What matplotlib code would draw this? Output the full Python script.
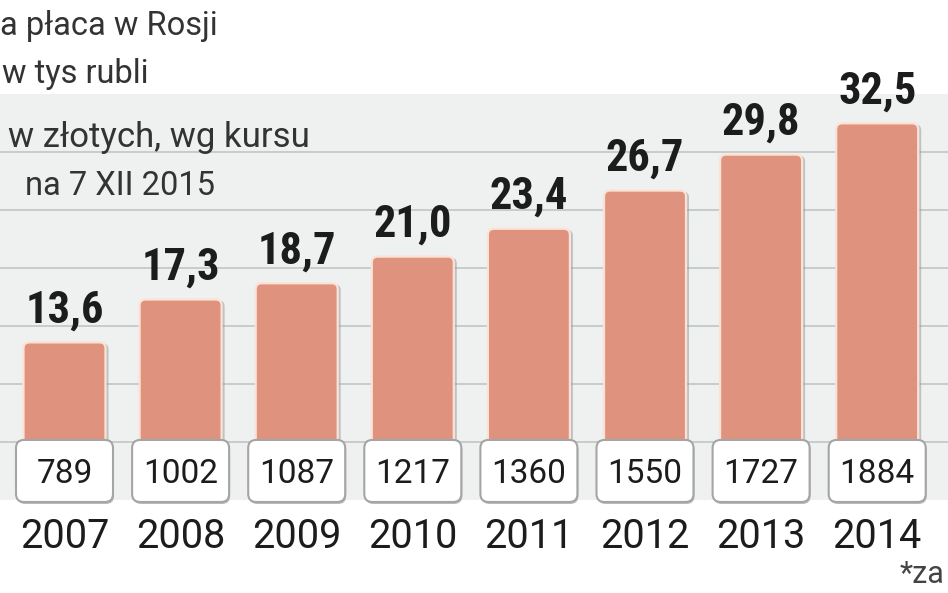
import matplotlib
matplotlib.use("Agg")
import matplotlib.pyplot as plt
from matplotlib import font_manager
from matplotlib.patches import FancyBboxPatch

# dane
years = [2007, 2008, 2009, 2010, 2011, 2012, 2013, 2014]
rub_thousands = [13.6, 17.3, 18.7, 21.0, 23.4, 26.7, 29.8, 32.5]
pln = [789, 1002, 1087, 1217, 1360, 1550, 1727, 1884]
grid_vals = [5, 10, 15, 20, 25, 30]


def pick_bold_narrow():
    # szukamy waskiego, grubego kroju; jak nie ma, Roboto
    names = sorted({f.name for f in font_manager.fontManager.ttflist})
    for want in ["Liberation Sans Narrow", "DejaVu Sans Condensed", "Roboto Condensed",
                 "Open Sans Condensed"]:
        if want in names:
            return want, "normal"
    for f in font_manager.fontManager.ttflist:
        if ("Narrow" in f.fname or "Condensed" in f.fname) and "Bold" in f.fname:
            return f.name, f.stretch
    return "Roboto", "normal"


bold_family, bold_stretch = pick_bold_narrow()

fig = plt.figure(figsize=(9.48, 5.93), dpi=100)
ax = fig.add_axes([0, 0, 1, 1])
ax.axis("off")

# skala: 1 rok = 116.1 px, 1 tys = 11.59 px, zero na y=500 px
px_x = 116.1
px_y = 11.59
x0 = 2007 - 64.5 / px_x
ax.set_xlim(x0, x0 + 948 / px_x)
ax.set_ylim((500 - 593) / px_y, 500 / px_y)
aspect = px_x / px_y

# tlo panelu i siatka
ax.axhspan(0, 35, color="#eff0f0", zorder=0, lw=0)
for g in grid_vals:
    ax.axhline(g, color="#c6cbcb", lw=1.4, zorder=1)

bar_w = 82 / px_x
box_w = 97 / px_x
box_lo, box_hi = -0.17, 5.18

for yr, v, p in zip(years, rub_thousands, pln):
    # cien slupka (po prawej)
    sh = FancyBboxPatch((yr - bar_w / 2 + 3 / px_x, 1), bar_w, v - 1 - 1 / px_y,
                        boxstyle="round,pad=0,rounding_size=%f" % (6 / px_x),
                        mutation_aspect=aspect, fc="#8f9696", ec="none", alpha=0.5, zorder=2)
    ax.add_patch(sh)
    bar = FancyBboxPatch((yr - bar_w / 2, 1), bar_w, v - 1,
                         boxstyle="round,pad=0,rounding_size=%f" % (6 / px_x),
                         mutation_aspect=aspect, fc="#df937e", ec="#fbe2d6", lw=1.6, zorder=3)
    ax.add_patch(bar)
    ax.annotate(f"{v:.1f}".replace(".", ","), (yr, v), xytext=(0, 20), textcoords="offset pixels",
                ha="center", va="baseline", fontsize=32, fontweight="bold",
                family=bold_family, fontstretch=bold_stretch, color="#1c1c1c", zorder=5)

    # ramka z kwota w zl
    bsh = FancyBboxPatch((yr - box_w / 2 + 1 / px_x, box_lo - 2 / px_y), box_w, box_hi - box_lo,
                         boxstyle="round,pad=0,rounding_size=%f" % (8 / px_x),
                         mutation_aspect=aspect, fc="#8c8c8c", ec="none", alpha=0.6, zorder=4)
    ax.add_patch(bsh)
    box = FancyBboxPatch((yr - box_w / 2, box_lo), box_w, box_hi - box_lo,
                         boxstyle="round,pad=0,rounding_size=%f" % (8 / px_x),
                         mutation_aspect=aspect, fc="white", ec="#a5a5a5", lw=1.5, zorder=4)
    ax.add_patch(box)
    ax.text(yr, (500 - 483) / px_y, str(p), ha="center", va="baseline", fontsize=24,
            family="Roboto", color="#1c1c1c", zorder=6)

    ax.text(yr, (500 - 548) / px_y, str(yr), ha="center", va="baseline", fontsize=28.5,
            family="Roboto", color="#1c1c1c", zorder=6)

# opisy
txt = dict(family="Roboto", fontsize=23.5, color="#333333", va="baseline", ha="left")
fig.text(0 / 948, 1 - 35 / 593, "a płaca w Rosji", **txt)
fig.text(2 / 948, 1 - 83 / 593, "w tys rubli", **txt)
fig.text(8 / 948, 1 - 147 / 593, "w złotych, wg kursu", **{**txt, "fontsize": 25})
fig.text(25 / 948, 1 - 195 / 593, "na 7 XII 2015", **txt)
fig.text(900 / 948, 1 - 583 / 593, "*za", family="Roboto", fontsize=22, color="#444444",
         va="baseline", ha="left")

fig.savefig("out.png", dpi=100)
